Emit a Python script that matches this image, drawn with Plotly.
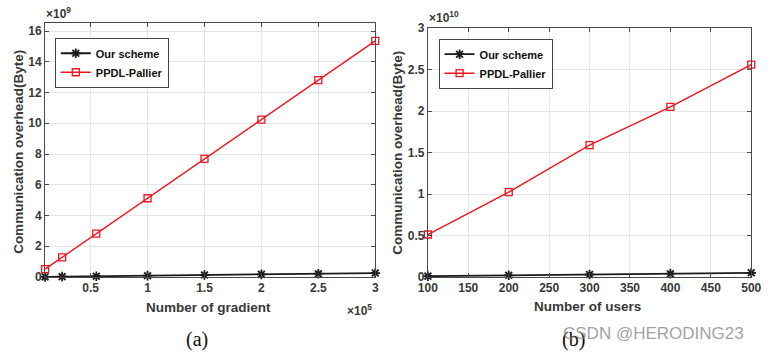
import plotly.graph_objects as go

W, H = 771, 357

# ---- data ----
grad_counts = [10000, 25000, 55000, 100000, 150000, 200000, 250000, 300000]
ours_grad = [0.009e9, 0.021e9, 0.047e9, 0.085e9, 0.128e9, 0.171e9, 0.213e9, 0.256e9]
ppdl_grad = [0.512e9, 1.28e9, 2.82e9, 5.12e9, 7.68e9, 10.24e9, 12.8e9, 15.36e9]

users = [100, 200, 300, 400, 500]
ours_users = [0.01e10, 0.02e10, 0.03e10, 0.04e10, 0.05e10]
ppdl_users = [0.512e10, 1.024e10, 1.59e10, 2.05e10, 2.56e10]

xa_tickvals = [50000, 100000, 150000, 200000, 250000, 300000]
xa_ticktext = ["0.5", "1", "1.5", "2", "2.5", "3"]
ya_tickvals = [0, 2e9, 4e9, 6e9, 8e9, 10e9, 12e9, 14e9, 16e9]
ya_ticktext = ["0", "2", "4", "6", "8", "10", "12", "14", "16"]
xb_tickvals = [100, 150, 200, 250, 300, 350, 400, 450, 500]
yb_tickvals = [0, 0.5e10, 1e10, 1.5e10, 2e10, 2.5e10, 3e10]
yb_ticktext = ["0", "0.5", "1", "1.5", "2", "2.5", "3"]

# ---- layout helpers (pixel -> paper) ----
def px(x):
    return x / W

def py(y):
    return 1 - y / H

TXT = "#383838"
AX = "#4a4a4a"
GRID = "#e6e6e6"
RED = "#f0141e"
BLK = "#1a1a1a"

fig = go.Figure()

def add_series(x, y_ours, y_ppdl, xa, ya, legend):
    fig.add_trace(go.Scatter(
        x=x, y=y_ours, xaxis=xa, yaxis=ya, name="Our scheme", legend=legend,
        mode="lines+markers", cliponaxis=False,
        line=dict(color=BLK, width=1.8),
        marker=dict(symbol="asterisk-open", size=8, color=BLK, line=dict(color=BLK, width=1.8)),
    ))
    fig.add_trace(go.Scatter(
        x=x, y=y_ppdl, xaxis=xa, yaxis=ya, name="PPDL-Pallier", legend=legend,
        mode="lines+markers", cliponaxis=False,
        line=dict(color=RED, width=1.4),
        marker=dict(symbol="square-open", size=7, color=RED, line=dict(color=RED, width=1.3)),
    ))

add_series(grad_counts, ours_grad, ppdl_grad, "x", "y", "legend")
add_series(users, ours_users, ppdl_users, "x2", "y2", "legend2")

tickfont = dict(family="Liberation Sans", size=12, color=TXT, weight="bold")
common_axis = dict(showline=True, linecolor=AX, linewidth=1, mirror="ticks",
                   ticks="inside", ticklen=4, tickcolor=AX, showgrid=True,
                   gridcolor=GRID, gridwidth=1, zeroline=False, tickfont=tickfont)

legfont = dict(family="Liberation Sans", size=11, color="#111", weight="bold")

fig.update_layout(
    width=W, height=H,
    margin=dict(l=0, r=0, t=0, b=0),
    paper_bgcolor="white", plot_bgcolor="white",
    xaxis=dict(domain=[px(36), px(375)], range=[10000, 300000],
               tickvals=xa_tickvals, ticktext=xa_ticktext, anchor="y", **common_axis),
    yaxis=dict(domain=[py(281), py(17)], range=[0, 16.5e9],
               tickvals=ya_tickvals, ticktext=ya_ticktext, anchor="x", **common_axis),
    xaxis2=dict(domain=[px(429), px(761)], range=[100, 500],
                tickvals=xb_tickvals, anchor="y2", **common_axis),
    yaxis2=dict(domain=[py(281), py(22)], range=[0, 3e10],
                tickvals=yb_tickvals, ticktext=yb_ticktext, anchor="x2", **common_axis),
    legend=dict(x=px(46), y=py(32), xanchor="left", yanchor="top",
                bgcolor="white", bordercolor="#444", borderwidth=1,
                font=legfont, tracegroupgap=0, itemwidth=30),
    legend2=dict(x=px(440), y=py(33), xanchor="left", yanchor="top",
                 bgcolor="white", bordercolor="#444", borderwidth=1,
                 font=legfont, tracegroupgap=0, itemwidth=30),
)

ann_font = dict(family="Liberation Sans", size=13.5, color=TXT, weight="bold")
exp_font = dict(family="Liberation Sans", size=12, color=TXT, weight="bold")
annotations = [
    dict(text="Communication overhead(Byte)", x=px(8), y=py(151), textangle=-90, font=ann_font),
    dict(text="Communication overhead(Byte)", x=px(397), y=py(152), textangle=-90, font=ann_font),
    dict(text="Number of gradient", x=px(204), y=py(313), font=ann_font),
    dict(text="Number of users", x=px(593), y=py(312), font=ann_font),
    dict(text="×10<sup>9</sup>", x=px(35), y=py(17), xanchor="left", yanchor="bottom", font=exp_font),
    dict(text="×10<sup>10</sup>", x=px(428), y=py(21), xanchor="left", yanchor="bottom", font=exp_font),
    dict(text="×10<sup>5</sup>", x=px(374), y=py(305), xanchor="right", yanchor="top", font=exp_font),
    dict(text="(a)", x=px(192), y=py(346),
         font=dict(family="Liberation Serif", size=20, color="#111")),
    dict(text="(b)", x=px(578), y=py(346),
         font=dict(family="Liberation Serif", size=20, color="#111")),
    dict(text="CSDN @HERODING23", x=px(661), y=py(340),
         font=dict(family="Liberation Sans", size=17, color="rgba(130,130,130,0.75)")),
]
for a in annotations:
    a.setdefault("xref", "paper")
    a.setdefault("yref", "paper")
    a.setdefault("showarrow", False)
    a.setdefault("xanchor", "center")
    a.setdefault("yanchor", "middle")
fig.update_layout(annotations=annotations)

fig.write_html("out.html", config={"displayModeBar": False},
               post_script="document.body.style.margin='0';document.body.style.overflow='hidden';")
